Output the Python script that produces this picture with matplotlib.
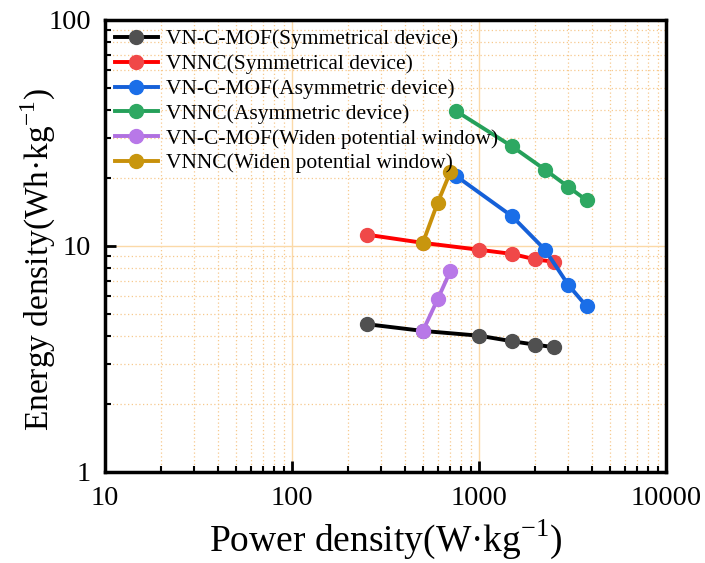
import matplotlib
matplotlib.use("Agg")
import matplotlib.pyplot as plt
from matplotlib.ticker import LogLocator, FixedLocator, NullFormatter

plt.rcParams['font.family'] = ['Liberation Serif', 'DejaVu Serif']
plt.rcParams['mathtext.fontset'] = 'custom'
plt.rcParams['mathtext.rm'] = 'Liberation Serif'

labels = ["VN-C-MOF(Symmetrical device)", "VNNC(Symmetrical device)",
          "VN-C-MOF(Asymmetric device)", "VNNC(Asymmetric device)",
          "VN-C-MOF(Widen potential window)", "VNNC(Widen potential window)"]

p_black = [250, 500, 1000, 1500, 2000, 2500]
e_black = [4.5, 4.2, 4.0, 3.78, 3.65, 3.56]
p_red = [250, 500, 1000, 1500, 2000, 2500]
e_red = [11.2, 10.3, 9.6, 9.2, 8.7, 8.5]
p_blue = [750, 1500, 2250, 3000, 3750]
e_blue = [20.4, 13.5, 9.6, 6.7, 5.4]
p_green = [750, 1500, 2250, 3000, 3750]
e_green = [39.5, 27.5, 21.7, 18.2, 15.9]
p_purple = [500, 600, 700]
e_purple = [4.2, 5.8, 7.7]
p_gold = [500, 600, 700]
e_gold = [10.3, 15.5, 21.1]

series = [(p_black, e_black, '#000000', '#505050'),
          (p_red, e_red, '#ff0000', '#f04848'),
          (p_blue, e_blue, '#1560d8', '#1a6ee8'),
          (p_green, e_green, '#25a05a', '#2ea862'),
          (p_purple, e_purple, '#b070e0', '#b878e8'),
          (p_gold, e_gold, '#c8900a', '#c8960e')]

fig = plt.figure(figsize=(7.05, 5.63), dpi=100)
ax = fig.add_axes([0.149, 0.162, 0.796, 0.803])

for (p, e, lc, mc), lab in zip(series, labels):
    ax.plot(p, e, '-o', color=lc, lw=2.8, ms=10, mfc=mc, mec=mc, label=lab, zorder=3)

ax.set_xscale('log')
ax.set_yscale('log')
ax.set_xlim(10, 10000)
ax.set_ylim(1, 100)

ax.xaxis.set_major_locator(FixedLocator([10, 100, 1000, 10000]))
ax.yaxis.set_major_locator(FixedLocator([1, 10, 100]))
ax.set_xticklabels(['10', '100', '1000', '10000'])
ax.set_yticklabels(['1', '10', '100'])
ax.xaxis.set_minor_locator(LogLocator(base=10, subs=range(2, 10)))
ax.yaxis.set_minor_locator(LogLocator(base=10, subs=range(2, 10)))
ax.xaxis.set_minor_formatter(NullFormatter())
ax.yaxis.set_minor_formatter(NullFormatter())

ax.grid(which='minor', color='#f7c98e', ls=(0, (1, 2)), lw=0.9, zorder=0)
ax.grid(which='major', color='#fbd9a8', ls='-', lw=1.0, zorder=0)
ax.set_axisbelow(True)

ax.tick_params(which='major', direction='in', length=8, width=2, labelsize=20.5,
               top=False, right=False)
ax.tick_params(axis='x', which='major', pad=10)
ax.tick_params(axis='y', which='major', pad=10)
ax.tick_params(which='minor', direction='in', length=4, width=1.5, top=False, right=False)
for s in ax.spines.values():
    s.set_linewidth(2.5)

ax.set_xlabel('Power density(W·kg$^{-1}$)', fontsize=27)
ax.xaxis.set_label_coords(0.5, -0.102)
ax.set_ylabel('Energy density(Wh·kg$^{-1}$)', fontsize=24)
ax.yaxis.set_label_coords(-0.084, 0.47)

leg = ax.legend(loc='upper left', frameon=False, fontsize=15.5, handlelength=2.0,
                handletextpad=0.4, labelspacing=0.22, borderaxespad=0.0,
                borderpad=0.45, bbox_to_anchor=(0.0, 1.0))

fig.savefig('out.png', dpi=100)
